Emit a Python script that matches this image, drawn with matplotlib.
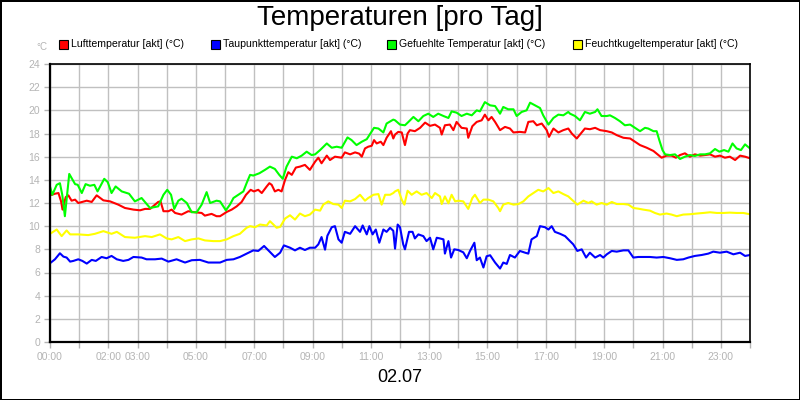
import matplotlib
matplotlib.use("Agg")
import matplotlib.pyplot as plt
from matplotlib.patches import Rectangle

plt.rcParams['font.family'] = ['Liberation Sans', 'DejaVu Sans']

title = "Temperaturen [pro Tag]"
date_label = "02.07"
unit_label = "°C"
series_names = ["Lufttemperatur [akt] (°C)", "Taupunkttemperatur [akt] (°C)",
                "Gefuehlte Temperatur [akt] (°C)", "Feuchtkugeltemperatur [akt] (°C)"]
series_colors = ["#ff0000", "#0000ff", "#00ff00", "#ffff00"]

x_ticks = list(range(0, 25))
x_tick_labels = ["00:00", "", "02:00", "03:00", "", "05:00", "", "07:00", "", "09:00", "",
                 "11:00", "", "13:00", "", "15:00", "", "17:00", "", "19:00", "",
                 "21:00", "", "23:00", ""]
y_ticks = list(range(0, 25, 2))

# Lufttemperatur
red_h = [0.0, 0.17, 0.29, 0.38, 0.43, 0.54, 0.63, 0.74, 0.86, 0.97, 1.26, 1.43, 1.6, 1.83, 2.06,
         2.34, 2.57, 2.86, 3.09, 3.26, 3.43, 3.71, 3.79, 3.89, 4.06, 4.17, 4.29, 4.51, 4.74, 4.97,
         5.2, 5.31, 5.54, 5.71, 5.83, 6.06, 6.23, 6.4, 6.57, 6.72, 6.88, 6.99, 7.14, 7.26, 7.43,
         7.52, 7.6, 7.71, 7.83, 7.94, 8.06, 8.17, 8.29, 8.43, 8.57, 8.74, 8.91, 9.09, 9.2, 9.31,
         9.49, 9.6, 9.77, 10.0, 10.11, 10.29, 10.46, 10.6, 10.69, 10.8, 10.91, 11.03, 11.11, 11.2,
         11.34, 11.43, 11.54, 11.69, 11.77, 11.83, 11.94, 12.06, 12.17, 12.26, 12.34, 12.51, 12.69,
         12.86, 13.03, 13.2, 13.37, 13.43, 13.54, 13.71, 13.83, 13.94, 14.11, 14.29, 14.34, 14.48,
         14.63, 14.8, 14.91, 15.03, 15.14, 15.26, 15.43, 15.6, 15.77, 15.89, 16.11, 16.29, 16.4,
         16.57, 16.69, 16.86, 17.03, 17.11, 17.26, 17.43, 17.6, 17.77, 17.89, 18.06, 18.17, 18.34,
         18.51, 18.69, 18.86, 19.09, 19.26, 19.43, 19.66, 19.89, 20.06, 20.23, 20.46, 20.69, 20.86,
         20.97, 21.14, 21.31, 21.46, 21.6, 21.77, 21.94, 22.11, 22.29, 22.46, 22.63, 22.8, 22.97,
         23.14, 23.31, 23.49, 23.66, 23.83, 24.0]
red_v = [12.66, 12.8, 12.86, 12.14, 11.43, 12.51, 12.66, 12.2, 12.29, 12.0, 12.2, 12.09, 12.66, 12.23,
         12.14, 11.86, 11.57, 11.43, 11.37, 11.49, 11.49, 12.09, 12.14, 11.29, 11.29, 11.43, 11.14,
         11.0, 11.29, 11.2, 11.14, 10.91, 11.06, 10.86, 10.86, 11.23, 11.43, 11.71, 12.09, 12.71,
         13.14, 13.0, 13.14, 12.86, 13.43, 13.71, 13.57, 13.0, 13.14, 13.0, 14.0, 14.66, 14.43,
         15.06, 15.14, 15.29, 14.86, 15.57, 15.91, 15.43, 16.09, 15.71, 16.0, 15.91, 16.37, 16.2,
         16.37, 16.26, 16.0, 16.71, 16.86, 16.94, 17.43, 17.14, 17.29, 17.0, 17.63, 18.2, 17.57,
         17.91, 18.14, 18.09, 17.0, 18.0, 18.29, 18.2, 18.49, 18.94, 18.66, 18.77, 18.49, 17.91,
         18.71, 18.77, 18.29, 19.0, 18.49, 18.43, 17.63, 18.63, 19.0, 19.14, 19.63, 19.14, 19.43,
         19.0, 18.29, 18.57, 18.43, 18.09, 18.14, 18.09, 19.0, 19.06, 18.71, 18.86, 18.29, 17.71,
         18.43, 18.09, 18.29, 18.43, 18.0, 17.57, 17.91, 18.43, 18.37, 18.49, 18.29, 18.2, 18.09,
         17.86, 17.63, 17.57, 17.29, 17.0, 16.77, 16.49, 16.14, 15.91, 16.09, 16.09, 15.91, 16.14,
         16.29, 16.0, 16.2, 16.09, 16.14, 16.2, 16.0, 16.09, 15.91, 16.0, 15.71, 16.09, 16.0, 15.86]

# Taupunkttemperatur
blue_h = [0.0, 0.17, 0.34, 0.46, 0.57, 0.69, 0.8, 0.97, 1.11, 1.26, 1.43, 1.57, 1.77, 1.94, 2.11,
          2.29, 2.51, 2.69, 2.86, 3.14, 3.31, 3.6, 3.83, 4.06, 4.34, 4.63, 4.86, 5.14, 5.43, 5.71,
          5.83, 6.06, 6.29, 6.51, 6.74, 6.97, 7.14, 7.34, 7.49, 7.71, 7.89, 8.02, 8.23, 8.4, 8.57,
          8.74, 8.91, 9.09, 9.2, 9.31, 9.43, 9.51, 9.66, 9.77, 9.89, 10.0, 10.11, 10.29, 10.46,
          10.63, 10.72, 10.86, 10.95, 11.06, 11.17, 11.29, 11.43, 11.54, 11.66, 11.77, 11.83, 11.92,
          12.0, 12.11, 12.17, 12.31, 12.43, 12.51, 12.63, 12.8, 12.91, 13.03, 13.14, 13.26, 13.37,
          13.49, 13.54, 13.66, 13.75, 13.86, 14.0, 14.17, 14.29, 14.4, 14.55, 14.63, 14.74, 14.86,
          14.97, 15.09, 15.26, 15.43, 15.54, 15.66, 15.77, 15.94, 16.11, 16.29, 16.4, 16.51, 16.69,
          16.8, 16.97, 17.09, 17.2, 17.31, 17.49, 17.66, 17.83, 17.94, 18.08, 18.23, 18.38, 18.51,
          18.69, 18.86, 18.97, 19.09, 19.26, 19.43, 19.66, 19.83, 20.0, 20.17, 20.34, 20.57, 20.8,
          21.03, 21.26, 21.49, 21.71, 21.89, 22.11, 22.34, 22.57, 22.74, 22.97, 23.2, 23.43, 23.66,
          23.83, 24.0]
blue_v = [6.8, 7.14, 7.66, 7.37, 7.29, 6.94, 7.0, 7.14, 7.0, 6.77, 7.09, 7.0, 7.34, 7.23, 7.43,
          7.14, 7.0, 7.09, 7.34, 7.29, 7.14, 7.14, 7.2, 6.94, 7.14, 6.86, 7.06, 7.09, 6.86, 6.86,
          6.86, 7.09, 7.14, 7.34, 7.63, 7.91, 7.86, 8.29, 7.91, 7.34, 7.71, 8.34, 8.14, 7.91, 8.14,
          7.94, 8.14, 8.14, 8.43, 9.06, 7.97, 9.17, 9.91, 10.0, 8.86, 8.57, 9.51, 9.34, 10.0,
          9.51, 10.06, 9.29, 10.0, 9.29, 9.71, 8.57, 9.71, 9.51, 9.86, 9.6, 8.06, 10.14,
          9.91, 8.43, 8.0, 9.51, 9.51, 8.94, 9.29, 9.14, 8.71, 9.0, 8.0, 9.0, 8.94,
          8.86, 7.63, 8.71, 7.29, 8.0, 7.94, 7.74, 7.23, 7.86, 8.57, 7.06, 7.29, 6.43,
          7.4, 7.49, 6.86, 6.34, 6.86, 6.74, 7.51, 7.29, 7.86, 7.71, 7.63, 8.86, 9.14,
          10.0, 9.91, 9.71, 10.0, 9.51, 9.34, 9.14, 8.71, 8.43, 7.86, 8.0, 7.29, 7.71,
          7.29, 7.51, 7.29, 7.57, 7.86, 7.8, 7.91, 7.91, 7.29, 7.34, 7.34, 7.34, 7.29,
          7.34, 7.23, 7.09, 7.14, 7.29, 7.43, 7.51, 7.63, 7.8, 7.71, 7.8, 7.57, 7.71,
          7.43, 7.51]

# Gefuehlte Temperatur
green_h = [0.0, 0.08, 0.23, 0.34, 0.42, 0.51, 0.66, 0.86, 0.95, 1.09, 1.22, 1.37, 1.52, 1.63, 1.86,
           1.98, 2.11, 2.25, 2.46, 2.71, 2.91, 3.14, 3.43, 3.71, 3.89, 4.02, 4.15, 4.26, 4.4, 4.51,
           4.69, 4.86, 5.03, 5.2, 5.37, 5.49, 5.71, 5.83, 6.03, 6.17, 6.29, 6.46, 6.63, 6.74, 6.86,
           6.97, 7.18, 7.37, 7.54, 7.71, 7.86, 7.98, 8.11, 8.29, 8.46, 8.63, 8.8, 8.97, 9.09, 9.26,
           9.49, 9.66, 9.83, 10.0, 10.2, 10.34, 10.51, 10.69, 10.86, 11.11, 11.26, 11.43, 11.54,
           11.77, 11.83, 12.0, 12.17, 12.29, 12.46, 12.63, 12.8, 12.97, 13.14, 13.31, 13.49, 13.66,
           13.77, 13.94, 14.11, 14.29, 14.46, 14.63, 14.74, 14.91, 15.09, 15.26, 15.43, 15.54, 15.71,
           15.89, 16.0, 16.17, 16.34, 16.46, 16.63, 16.8, 16.91, 17.09, 17.26, 17.43, 17.6, 17.77,
           17.83, 18.0, 18.17, 18.34, 18.51, 18.69, 18.77, 18.91, 19.09, 19.2, 19.37, 19.54, 19.71,
           19.89, 20.06, 20.23, 20.4, 20.51, 20.69, 20.8, 20.89, 21.0, 21.09, 21.26, 21.43, 21.6,
           21.77, 21.94, 22.11, 22.29, 22.46, 22.63, 22.8, 22.95, 23.11, 23.26, 23.4, 23.54, 23.69,
           23.83, 24.0]
green_v = [13.43, 12.71, 13.57, 13.71, 12.71, 10.86, 14.51, 13.63, 13.57, 12.86, 13.63, 13.49, 13.57,
           13.0, 14.09, 13.8, 12.86, 13.43, 13.0, 12.8, 12.14, 12.43, 11.57, 11.71, 12.71, 13.14,
           12.71, 11.49, 12.2, 12.37, 12.0, 11.2, 11.2, 11.86, 12.94, 12.0, 12.2, 12.14, 11.37,
           11.86, 12.43, 12.71, 13.0, 13.71, 14.43, 14.37, 14.57, 14.86, 15.14, 14.94, 14.43, 14.09,
           15.14, 16.0, 15.86, 16.09, 16.43, 16.14, 16.2, 16.57, 17.14, 16.77, 16.86, 16.77, 17.66,
           17.43, 17.0, 17.29, 17.51, 18.49, 18.43, 18.09, 18.86, 19.2, 19.14, 18.77, 18.71, 19.0,
           19.43, 19.06, 19.51, 19.71, 19.43, 19.71, 19.51, 19.34, 19.91, 19.8, 19.51, 19.71, 19.57,
           20.0, 19.91, 20.71, 20.43, 20.37, 19.71, 20.29, 20.09, 20.09, 19.51, 19.86, 20.0, 20.66,
           20.43, 20.2, 19.57, 18.77, 19.34, 19.63, 19.57, 19.86, 19.71, 19.51, 19.14, 19.86, 19.71,
           19.86, 20.09, 19.51, 19.51, 19.57, 19.34, 19.06, 18.71, 18.77, 18.49, 18.2, 18.49, 18.43,
           18.2, 18.2, 17.43, 16.57, 16.2, 16.14, 16.2, 15.8, 16.0, 16.14, 16.06, 16.2, 16.2, 16.29,
           16.66, 16.43, 16.57, 16.43, 17.14, 16.71, 16.57, 17.06, 16.71]

# Feuchtkugeltemperatur
yellow_h = [0.0, 0.23, 0.4, 0.57, 0.69, 0.97, 1.31, 1.54, 1.83, 2.11, 2.29, 2.57, 2.91, 3.26, 3.49,
            3.77, 4.0, 4.17, 4.4, 4.63, 4.86, 5.09, 5.31, 5.6, 5.83, 6.06, 6.29, 6.51, 6.74, 6.86,
            7.03, 7.2, 7.43, 7.54, 7.66, 7.77, 7.89, 8.06, 8.23, 8.4, 8.57, 8.74, 8.91, 9.09, 9.26,
            9.37, 9.54, 9.71, 9.89, 10.0, 10.11, 10.29, 10.46, 10.63, 10.8, 10.91, 11.09, 11.26,
            11.37, 11.49, 11.66, 11.77, 11.83, 11.94, 12.06, 12.15, 12.26, 12.4, 12.57, 12.74, 12.91,
            13.09, 13.2, 13.37, 13.43, 13.54, 13.66, 13.77, 13.89, 14.0, 14.17, 14.34, 14.48, 14.57,
            14.74, 14.86, 15.03, 15.2, 15.37, 15.43, 15.54, 15.71, 15.89, 16.06, 16.23, 16.4, 16.57,
            16.74, 16.91, 17.09, 17.26, 17.43, 17.6, 17.77, 17.89, 18.08, 18.29, 18.46, 18.57, 18.74,
            18.91, 19.09, 19.26, 19.43, 19.66, 19.83, 20.0, 20.17, 20.34, 20.57, 20.74, 20.91, 21.14,
            21.31, 21.49, 21.71, 21.94, 22.17, 22.4, 22.63, 22.86, 23.09, 23.31, 23.54, 23.77, 24.0]
yellow_v = [9.34, 9.71, 9.14, 9.63, 9.29, 9.29, 9.23, 9.34, 9.57, 9.34, 9.51, 9.06, 9.0, 9.14, 9.06,
            9.29, 8.94, 8.86, 9.06, 8.71, 8.86, 8.94, 8.77, 8.71, 8.71, 8.86, 9.14, 9.34, 9.86, 10.0,
            9.91, 10.14, 10.06, 10.43, 10.14, 9.86, 9.94, 10.66, 10.94, 10.57, 11.09, 10.86, 11.0,
            11.43, 11.34, 11.86, 12.14, 11.91, 11.86, 11.57, 12.2, 12.14, 12.34, 12.71, 12.2, 12.43,
            12.71, 12.77, 11.86, 12.71, 12.71, 12.86, 13.0, 13.14, 12.29, 11.86, 13.06, 12.71, 13.0,
            12.71, 12.86, 12.43, 12.86, 12.57, 11.91, 12.57, 11.97, 12.71, 12.14, 12.2, 12.14, 11.49,
            12.43, 12.71, 12.0, 12.29, 12.29, 12.14, 11.57, 11.29, 11.86, 12.0, 11.86, 11.91, 12.14,
            12.57, 12.86, 13.14, 13.0, 13.29, 12.86, 13.0, 12.77, 12.57, 12.29, 11.86, 12.2, 12.0,
            12.14, 11.86, 12.0, 11.86, 12.09, 11.91, 11.91, 11.86, 11.57, 11.51, 11.43, 11.34, 11.14,
            11.0, 11.09, 11.0, 10.86, 11.0, 11.03, 11.09, 11.14, 11.2, 11.14, 11.14, 11.17, 11.14,
            11.14, 11.03]

grey = "#b4b4b4"

fig = plt.figure(figsize=(8, 4), dpi=100)
fig.patch.set_facecolor("white")
fig.patch.set_edgecolor("black")
fig.patch.set_linewidth(2)

ax = fig.add_axes([50 / 800, 58 / 400, 700 / 800, 278 / 400])
series = [(red_h, red_v), (blue_h, blue_v), (green_h, green_v), (yellow_h, yellow_v)]
for (hh, vv), col in zip(series, series_colors):
    ax.plot(hh, vv, color=col, linewidth=1.5, solid_joinstyle="round")

ax.set_xlim(0, 24)
ax.set_ylim(0, 24)
ax.set_xticks(x_ticks)
ax.set_xticklabels(x_tick_labels)
ax.set_yticks(y_ticks)
ax.grid(True, color="#c0c0c0", linewidth=1.0)
ax.set_axisbelow(True)
ax.tick_params(axis="both", colors=grey, labelcolor=grey, labelsize=7.5, length=4, width=1,
               direction="out", pad=3)
for sp in ax.spines.values():
    sp.set_color("black")
    sp.set_linewidth(1.2)
ax.spines["left"].set_linewidth(1.6)
ax.spines["bottom"].set_linewidth(1.6)

fig.text(0.5, 1 - 18 / 400, title, ha="center", va="center", fontsize=20, color="black")
fig.text(0.5, 1 - 378 / 400, date_label, ha="center", va="center", fontsize=13, color="black")
fig.text(42 / 800, 1 - 47 / 400, unit_label, ha="center", va="center", fontsize=7, color=grey)

legend_x = [59, 211, 387, 573]
for lx, name, col in zip(legend_x, series_names, series_colors):
    fig.patches.append(Rectangle((lx / 800, 1 - 48.5 / 400), 9 / 800, 9 / 400,
                                 transform=fig.transFigure, facecolor=col,
                                 edgecolor="black", linewidth=0.8))
    fig.text((lx + 12) / 800, 1 - 44 / 400, name, ha="left", va="center",
             fontsize=7.6, color="black")

fig.savefig("out.png", dpi=100)
